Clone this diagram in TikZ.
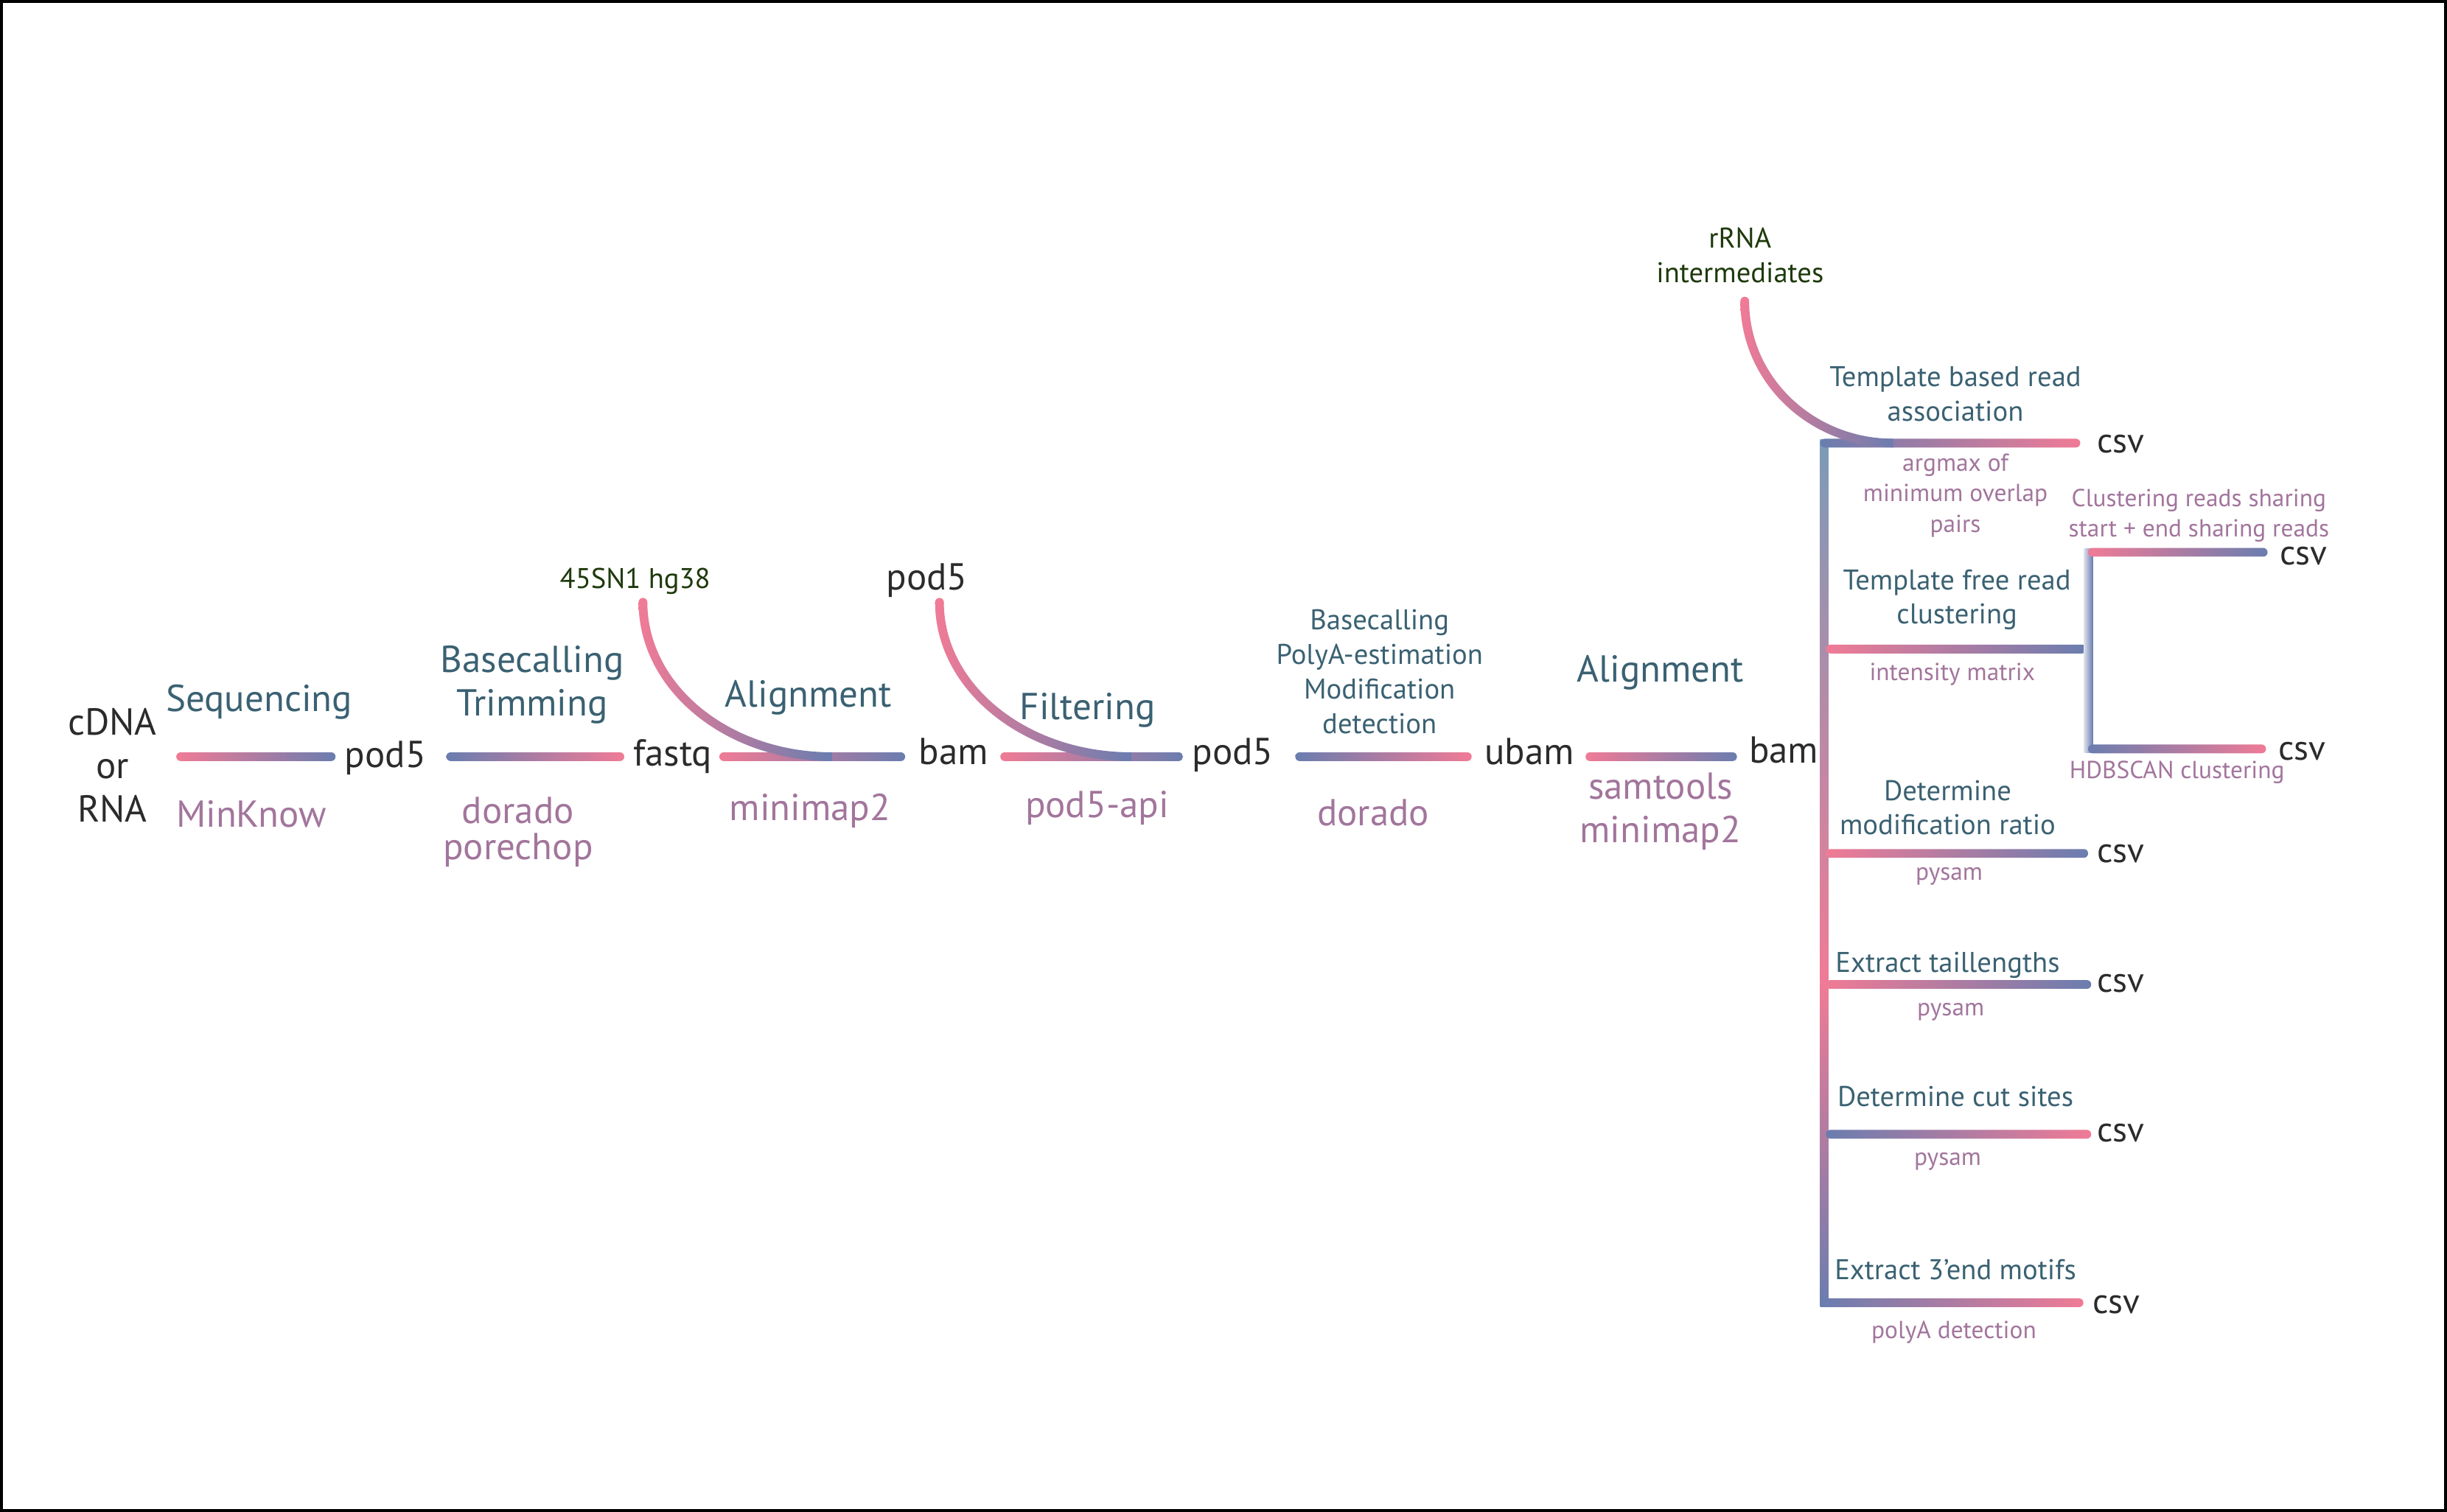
\documentclass[tikz,border=0pt]{standalone}
\usepackage{fontspec}
\setmainfont{PT Sans}
\usetikzlibrary{calc}

\definecolor{pinkline}{HTML}{F07B96}
\definecolor{blueline}{HTML}{6A7DAF}
\definecolor{steelline}{HTML}{7B9BB8}
\definecolor{stagecol}{HTML}{3A6172}
\definecolor{toolcol}{HTML}{A2759C}
\definecolor{filecol}{HTML}{2B2B2B}
\definecolor{refcol}{HTML}{1E3A0C}

% horizontal gradient line between two named points
\newcommand\hseg[4]{\shade[rounded corners=1.65pt,left color=#3,right color=#4] ($(#1)+(0,-2.8)$) rectangle ($(#2)+(0,2.8)$);}
% vertical gradient line
\newcommand\vseg[4]{\shade[top color=#3,bottom color=#4] ($(#1)+(-2.6,0)$) rectangle ($(#2)+(2.6,0)$);}
% curved feed line: top point, x radius, y radius
\newcommand\feedline[3]{%
  \shade[left color=pinkline,middle color=pinkline,right color=blueline]
    ($(#1)+(-2.8,0)$) arc[start angle=180,end angle=90,x radius=#2+2.8,y radius=#3+2.8]
    -- ++(0,-5.6) arc[start angle=90,end angle=180,x radius=#2-2.8,y radius=#3-2.8] -- cycle;
  \fill[pinkline] (#1) circle[radius=2.8];}

\begin{document}
\begin{tikzpicture}[x=0.021173cm,y=-0.021173cm,
  every node/.style={inner sep=0pt},
  file/.style={text=filecol,font=\fontsize{14.5}{16.9}\selectfont,anchor=base,align=center},
  stage/.style={text=stagecol,font=\fontsize{14.5}{16.9}\selectfont,anchor=base,align=center},
  tool/.style={text=toolcol,font=\fontsize{14.5}{16.9}\selectfont,anchor=base,align=center},
  task/.style={text=stagecol,font=\fontsize{11}{13.3}\selectfont,anchor=base,align=center},
  note/.style={text=toolcol,font=\fontsize{9.5}{11.7}\selectfont,anchor=base,align=center},
  refseq/.style={text=refcol,font=\fontsize{11}{13.3}\selectfont,anchor=base,align=center},
  csv/.style={text=filecol,font=\fontsize{13.5}{15}\selectfont,anchor=base}]
\useasboundingbox (0,0) rectangle (1568,969);
\draw[line width=1.2pt] (1,1) rectangle (1567,968);

% files (multi-line nodes sit on their last line)
\node[file] (input) at (72,527) {cDNA\\or\\RNA};
\node[file] (rawa) at (247,492) {pod5};
\node[file] (fastq) at (431,491) {fastq};
\node[file] (bama) at (611,490) {bam};
\node[file] (rawb) at (790,490) {pod5};
\node[file] (ubam) at (980,490) {ubam};
\node[file] (bamb) at (1143,489) {bam};
\node[file] (rawc) at (594,378) {pod5};
\node[refseq] (ref) at (407,377) {45SN1 hg38};
\node[refseq] (inter) at (1115,181) {rRNA\\intermediates};

% steps
\node[stage] (seq) at (166,456) {Sequencing};
\node[stage] (trim) at (341,459) {Basecalling\\Trimming};
\node[stage] (aligna) at (518,453) {Alignment};
\node[stage] (filter) at (697,461) {Filtering};
\node[task] (modcall) at (884,470) {Basecalling\\PolyA-estimation\\Modification\\detection};
\node[stage] (alignb) at (1064,437) {Alignment};

% tools
\node[tool] (minknow) at (161,530) {MinKnow};
\node[tool,font=\fontsize{14.5}{13.9}\selectfont] (dorado) at (332,551) {dorado\\porechop};
\node[tool] (mmap) at (519,526) {minimap2};
\node[tool] (podapi) at (703,524) {pod5-api};
\node[tool] (doradob) at (880,529) {dorado};
\node[tool] (samtools) at (1064,540) {samtools\\minimap2};

% analyses
\node[task] (tmpl) at (1253,270) {Template based read\\association};
\node[note] (argmax) at (1253,341) {argmax of\\minimum overlap\\pairs};
\node[csv] (csva) at (1359,290) {csv};
\node[note] (share) at (1409,344) {Clustering reads sharing\\start + end sharing reads};
\node[csv] (csvb) at (1476,362) {csv};
\node[task] (free) at (1254,400) {Template free read\\clustering};
\node[note] (intens) at (1251,436) {intensity matrix};
\node[csv] (csvc) at (1475,487) {csv};
\node[note] (hdb) at (1395,499) {HDBSCAN clustering};
\node[task] (modr) at (1248,535) {Determine\\modification ratio};
\node[note] (pysama) at (1249,564) {pysam};
\node[csv] (csvd) at (1359,553) {csv};
\node[task] (tail) at (1248,623) {Extract taillengths};
\node[note] (pysamb) at (1250,651) {pysam};
\node[csv] (csve) at (1359,636) {csv};
\node[task] (cut) at (1253,709) {Determine cut sites};
\node[note] (pysamc) at (1248,747) {pysam};
\node[csv] (csvf) at (1359,732) {csv};
\node[task] (motif) at (1253,820) {Extract 3’end motifs};
\node[note] (polya) at (1252,858) {polyA detection};
\node[csv] (csvg) at (1356,842) {csv};

% line ends
\coordinate (s1l) at (113,485); \coordinate (s1r) at (215,485);
\coordinate (s2l) at (286,485); \coordinate (s2r) at (400,485);
\coordinate (s3l) at (461,485); \coordinate (s3r) at (580,485);
\coordinate (s4l) at (641,485); \coordinate (s4r) at (758,485);
\coordinate (s5l) at (830,485); \coordinate (s5r) at (943,485);
\coordinate (s6l) at (1016,485); \coordinate (s6r) at (1113,485);
\coordinate (reftop) at (412,386);
\coordinate (rawtop) at (602,386);
\coordinate (intertop) at (1118,193);
\coordinate (t1) at (1169,281.5); \coordinate (t2) at (1169,630); \coordinate (t3) at (1169,837.5);
\coordinate (b1l) at (1166.5,284); \coordinate (b1r) at (1333,284);
\coordinate (b2l) at (1170,416); \coordinate (b2r) at (1337,416);
\coordinate (b3l) at (1170,547); \coordinate (b3r) at (1338,547);
\coordinate (b4l) at (1170,631); \coordinate (b4r) at (1340,631);
\coordinate (b5l) at (1170,727); \coordinate (b5r) at (1340,727);
\coordinate (b6l) at (1166.5,835); \coordinate (b6r) at (1335,835);
\coordinate (c1l) at (1338,354); \coordinate (c1r) at (1453,354);
\coordinate (c2l) at (1338,480); \coordinate (c2r) at (1452,480);

% pipeline lines
\hseg{s1l}{s1r}{pinkline}{blueline}
\hseg{s2l}{s2r}{blueline}{pinkline}
\hseg{s3l}{s3r}{pinkline}{blueline}
\hseg{s4l}{s4r}{pinkline}{blueline}
\hseg{s5l}{s5r}{blueline}{pinkline}
\hseg{s6l}{s6r}{pinkline}{blueline}
\feedline{reftop}{121}{99}
\feedline{rawtop}{123}{99}

% branches
\vseg{t1}{t2}{steelline}{pinkline}
\vseg{t2}{t3}{pinkline}{blueline}
\hseg{b1l}{b1r}{blueline}{pinkline}
\hseg{b2l}{b2r}{pinkline}{blueline}
\hseg{b3l}{b3r}{pinkline}{blueline}
\hseg{b4l}{b4r}{pinkline}{blueline}
\hseg{b5l}{b5r}{blueline}{pinkline}
\hseg{b6l}{b6r}{blueline}{pinkline}
\shade[left color=blueline!25,right color=blueline] (1335.5,351.5) rectangle (1341,482.5);
\hseg{c1l}{c1r}{pinkline}{blueline}
\hseg{c2l}{c2r}{blueline}{pinkline}
\feedline{intertop}{95}{91}
\end{tikzpicture}
\end{document}
